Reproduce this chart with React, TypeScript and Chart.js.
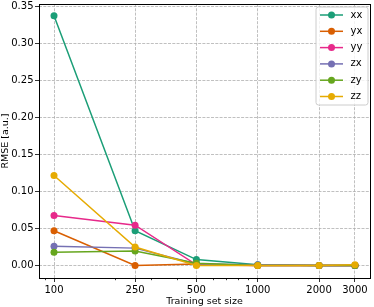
import React, { useEffect, useRef } from "react";
import { Chart, registerables } from "chart.js";

Chart.register(...registerables);

const FONT = "'DejaVu Sans', 'Liberation Sans', sans-serif";

// ---- data ----
const trainingSizes = [100, 250, 500, 1000, 2000, 3000];
const seriesLabels = ["xx", "yx", "yy", "zx", "zy", "zz"];
const xxValues = [0.337, 0.047, 0.008, 0.001, 0.0, 0.0];
const yxValues = [0.047, 0.0, 0.002, 0.0, 0.0, 0.0];
const yyValues = [0.0675, 0.0545, 0.001, 0.0, 0.0, 0.0];
const zxValues = [0.026, 0.0235, 0.002, 0.001, 0.0, 0.0];
const zyValues = [0.018, 0.0195, 0.003, 0.0, 0.0, 0.0];
const zzValues = [0.1215, 0.025, 0.0, 0.0, 0.0, 0.001];
const seriesColors = ["#1b9e77", "#d95f02", "#e7298a", "#7570b3", "#66a61e", "#e6ab02"];
const xMajorTicks = [100, 250, 500, 1000, 2000, 3000];
const xMinorTicks = [90, 200, 300, 400, 600, 700, 800, 900];
const yTickValues = [0, 0.05, 0.1, 0.15, 0.2, 0.25, 0.3, 0.35];
const xTitle = "Training set size";
const yTitle = "RMSE [a.u.]";

const allSeries = [xxValues, yxValues, yyValues, zxValues, zyValues, zzValues];

const extrasPlugin = {
  id: "extras",
  afterDraw(chart: any) {
    const { ctx, chartArea: a, scales } = chart;
    ctx.save();
    // minor ticks on x axis
    ctx.strokeStyle = "#000";
    ctx.lineWidth = 0.8;
    for (const v of xMinorTicks) {
      const x = Math.round(scales.x.getPixelForValue(v)) + 0.5;
      if (x < a.left || x > a.right) continue;
      ctx.beginPath();
      ctx.moveTo(x, a.bottom);
      ctx.lineTo(x, a.bottom + 2.2);
      ctx.stroke();
    }
    // frame
    ctx.lineWidth = 1;
    ctx.strokeStyle = "#000";
    const l = Math.floor(a.left) + 0.5;
    const t = Math.floor(a.top) + 0.5;
    const r = Math.floor(a.right) + 0.5;
    const b = Math.floor(a.bottom) + 0.5;
    ctx.strokeRect(l, t, r - l, b - t);

    // legend
    const bx = 316, by = 7, bw = 52, bh = 98, rad = 2.5;
    ctx.beginPath();
    ctx.moveTo(bx + rad, by);
    ctx.lineTo(bx + bw - rad, by);
    ctx.arcTo(bx + bw, by, bx + bw, by + rad, rad);
    ctx.lineTo(bx + bw, by + bh - rad);
    ctx.arcTo(bx + bw, by + bh, bx + bw - rad, by + bh, rad);
    ctx.lineTo(bx + rad, by + bh);
    ctx.arcTo(bx, by + bh, bx, by + bh - rad, rad);
    ctx.lineTo(bx, by + rad);
    ctx.arcTo(bx, by, bx + rad, by, rad);
    ctx.closePath();
    ctx.fillStyle = "rgba(255,255,255,0.8)";
    ctx.fill();
    ctx.strokeStyle = "#cccccc";
    ctx.lineWidth = 1;
    ctx.stroke();

    ctx.font = `10px ${FONT}`;
    ctx.textBaseline = "middle";
    ctx.textAlign = "left";
    seriesLabels.forEach((name, i) => {
      const y = 15 + i * 16.3;
      ctx.strokeStyle = seriesColors[i];
      ctx.lineWidth = 1.5;
      ctx.beginPath();
      ctx.moveTo(320, y);
      ctx.lineTo(343, y);
      ctx.stroke();
      ctx.fillStyle = seriesColors[i];
      ctx.beginPath();
      ctx.arc(331.5, y, 3.5, 0, Math.PI * 2);
      ctx.fill();
      ctx.fillStyle = "#000";
      ctx.fillText(name, 350.5, y);
    });
    ctx.restore();
  },
};

export default function App() {
  const canvasRef = useRef<HTMLCanvasElement | null>(null);

  useEffect(() => {
    const canvas = canvasRef.current;
    if (!canvas) return;
    const datasets = seriesLabels.map((label, i) => ({
      label,
      data: trainingSizes.map((x, j) => ({ x, y: allSeries[i][j] })),
      borderColor: seriesColors[i],
      backgroundColor: seriesColors[i],
      pointBackgroundColor: seriesColors[i],
      pointBorderWidth: 0,
      pointRadius: 3.5,
      borderWidth: 1.5,
      tension: 0,
      fill: false,
      order: seriesLabels.length - 1 - i,
    }));

    const chart = new Chart(canvas, {
      type: "line",
      data: { datasets },
      plugins: [extrasPlugin],
      options: {
        animation: false,
        responsive: false,
        devicePixelRatio: 1,
        layout: { padding: { left: 0, right: 2, top: 2, bottom: 0 } },
        plugins: { legend: { display: false }, tooltip: { enabled: false } },
        scales: {
          x: {
            type: "logarithmic",
            min: 84.4,
            max: 3556,
            bounds: "data",
            afterBuildTicks: (scale: any) => {
              scale.ticks = xMajorTicks.map((v) => ({ value: v }));
            },
            afterFit: (scale: any) => {
              scale.height = 29;
              scale.paddingLeft = 0;
              scale.paddingRight = 0;
            },
            ticks: {
              autoSkip: false,
              maxRotation: 0,
              color: "#000",
              padding: 2,
              font: { family: FONT, size: 10 },
              callback: (v: any) => String(v),
            },
            grid: {
              color: "#b0b0b0",
              lineWidth: 0.8,
              tickColor: "#000",
              tickLength: 4,
              tickWidth: 0.8,
            },
            border: { display: false, dash: [3, 1.3] },
            title: {
              display: true,
              text: xTitle,
              color: "#000",
              font: { family: FONT, size: 9.5 },
              padding: { top: 0, bottom: 0 },
            },
          },
          y: {
            type: "linear",
            min: -0.0168,
            max: 0.3528,
            bounds: "data",
            afterBuildTicks: (scale: any) => {
              scale.ticks = yTickValues.map((v) => ({ value: v }));
            },
            afterFit: (scale: any) => {
              scale.width = 39;
              scale.paddingTop = 0;
              scale.paddingBottom = 0;
            },
            ticks: {
              autoSkip: false,
              color: "#000",
              padding: 1.5,
              font: { family: FONT, size: 10 },
              callback: (v: any) => Number(v).toFixed(2),
            },
            grid: {
              color: "#b0b0b0",
              lineWidth: 0.8,
              tickColor: "#000",
              tickLength: 4,
              tickWidth: 0.8,
            },
            border: { display: false, dash: [3, 1.3] },
            title: {
              display: true,
              text: yTitle,
              color: "#000",
              font: { family: FONT, size: 9.5 },
              padding: { top: 0, bottom: 0 },
            },
          },
        },
      },
    } as any);
    return () => chart.destroy();
  }, []);

  return (
    <div style={{ position: "fixed", left: 0, top: 0, width: 374, height: 307, background: "#fff" }}>
      <canvas ref={canvasRef} width={374} height={307} style={{ width: 374, height: 307, display: "block" }} />
    </div>
  );
}
